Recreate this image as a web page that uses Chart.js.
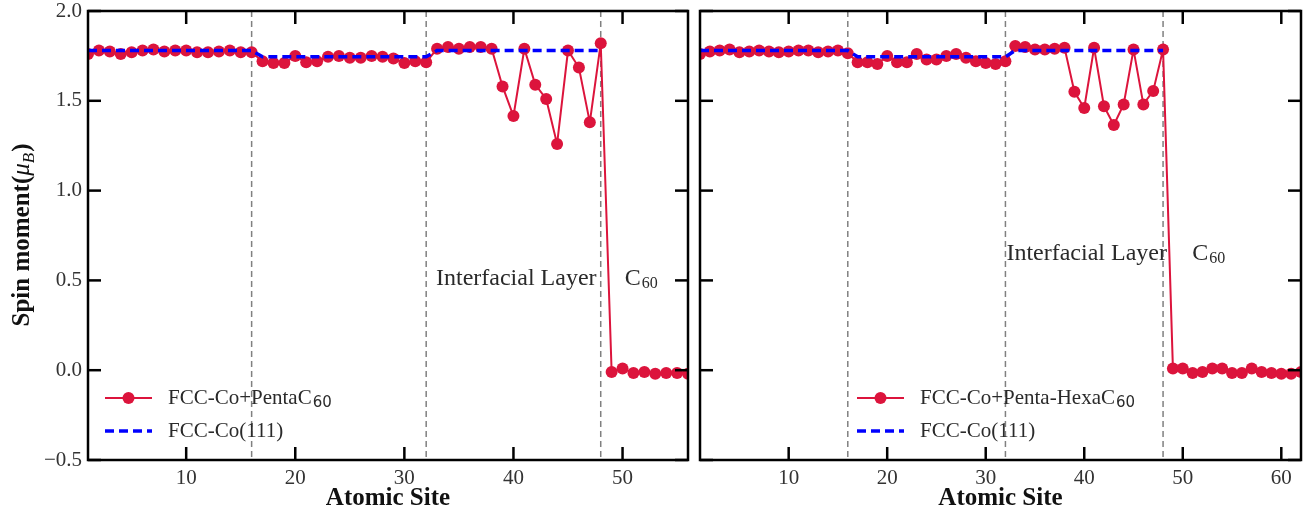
<!DOCTYPE html>
<html>
<head>
<meta charset="utf-8">
<script src="https://cdn.jsdelivr.net/npm/chart.js@4.4.1/dist/chart.umd.min.js"></script>
<style>
  html, body { margin: 0; padding: 0; background: #fff; }
  #wrap { position: relative; width: 1313px; height: 520px; }
  #c1 { position: absolute; left: 0; top: 0; }
  #c2 { position: absolute; left: 694px; top: 0; }
</style>
</head>
<body>
<div id="wrap">
  <canvas id="c1" width="694" height="520"></canvas>
  <canvas id="c2" width="619" height="520"></canvas>
</div>
<script>
/* ---- data ---- */
const sitesPenta = [1, 2, 3, 4, 5, 6, 7, 8, 9, 10, 11, 12, 13, 14, 15, 16,
  17, 18, 19, 20, 21, 22, 23, 24, 25, 26, 27, 28, 29, 30, 31, 32,
  33, 34, 35, 36, 37, 38, 39, 40, 41, 42, 43, 44, 45, 46, 47, 48,
  49, 50, 51, 52, 53, 54, 55, 56];
const momentPenta = [1.76, 1.78, 1.775, 1.76, 1.77, 1.78, 1.785, 1.775, 1.78, 1.78, 1.77, 1.77, 1.775, 1.78, 1.77, 1.77,
  1.72, 1.71, 1.71, 1.75, 1.715, 1.72, 1.745, 1.75, 1.74, 1.74, 1.75, 1.745, 1.735, 1.71, 1.72, 1.715,
  1.79, 1.80, 1.79, 1.80, 1.80, 1.79, 1.58, 1.415, 1.79, 1.59, 1.51, 1.26, 1.78, 1.685, 1.38, 1.82,
  -0.01, 0.01, -0.015, -0.01, -0.02, -0.015, -0.015, -0.02];

const sitesHexa = [1, 2, 3, 4, 5, 6, 7, 8, 9, 10, 11, 12, 13, 14, 15, 16,
  17, 18, 19, 20, 21, 22, 23, 24, 25, 26, 27, 28, 29, 30, 31, 32,
  33, 34, 35, 36, 37, 38, 39, 40, 41, 42, 43, 44, 45, 46, 47, 48,
  49, 50, 51, 52, 53, 54, 55, 56, 57, 58, 59, 60, 61, 62];
const momentHexa = [1.76, 1.775, 1.78, 1.785, 1.77, 1.775, 1.78, 1.775, 1.77, 1.775, 1.78, 1.78, 1.77, 1.775, 1.78, 1.765,
  1.715, 1.715, 1.705, 1.75, 1.715, 1.715, 1.76, 1.73, 1.73, 1.75, 1.76, 1.74, 1.72, 1.71, 1.705, 1.72,
  1.805, 1.80, 1.785, 1.785, 1.79, 1.795, 1.55, 1.46, 1.795, 1.47, 1.365, 1.48, 1.785, 1.48, 1.555, 1.785,
  0.01, 0.01, -0.015, -0.01, 0.01, 0.01, -0.015, -0.015, 0.01, -0.01, -0.015, -0.02, -0.02, -0.01];

// bare FCC-Co(111) reference, sites 1-48
const sitesRef = [1, 2, 3, 4, 5, 6, 7, 8, 9, 10, 11, 12, 13, 14, 15, 16,
  17, 18, 19, 20, 21, 22, 23, 24, 25, 26, 27, 28, 29, 30, 31, 32,
  33, 34, 35, 36, 37, 38, 39, 40, 41, 42, 43, 44, 45, 46, 47, 48];
const momentRef = [1.78, 1.78, 1.78, 1.78, 1.78, 1.78, 1.78, 1.78, 1.78, 1.78, 1.78, 1.78, 1.78, 1.78, 1.78, 1.78,
  1.745, 1.745, 1.745, 1.745, 1.745, 1.745, 1.745, 1.745, 1.745, 1.745, 1.745, 1.745, 1.745, 1.745, 1.745, 1.745,
  1.78, 1.78, 1.78, 1.78, 1.78, 1.78, 1.78, 1.78, 1.78, 1.78, 1.78, 1.78, 1.78, 1.78, 1.78, 1.78];

const boundarySites = [16, 32, 48];
const xTicksPenta = [10, 20, 30, 40, 50];
const xTicksHexa = [10, 20, 30, 40, 50, 60];
const yTicks = [-0.5, 0.0, 0.5, 1.0, 1.5, 2.0];

const RED = '#dc143c';
const BLUE = '#0000ff';
const SERIF = "'Liberation Serif', 'DejaVu Serif', serif";

const toXY = (xs, ys) => xs.map((v, i) => ({ x: v, y: ys[i] }));

// text with a subscript tail, e.g. C + 60
function drawSub(ctx, x, y, main, sub, size, subFont) {
  ctx.font = `${size}px ${SERIF}`;
  ctx.fillText(main, x, y);
  if (!sub) return;
  const w = ctx.measureText(main).width;
  ctx.font = subFont;
  ctx.fillText(sub, x + w + 1, y + Math.round(size * 0.22));
}

const panelDecor = {
  id: 'panelDecor',
  beforeDatasetsDraw(chart) {
    const { ctx, chartArea: a, scales: { x } } = chart;
    ctx.save();
    ctx.strokeStyle = '#808080';
    ctx.lineWidth = 1.5;
    ctx.setLineDash([6, 4]);
    boundarySites.forEach((v) => {
      const px = x.getPixelForValue(v);
      ctx.beginPath();
      ctx.moveTo(px, a.top);
      ctx.lineTo(px, a.bottom);
      ctx.stroke();
    });
    ctx.restore();
  },
  afterDraw(chart, args, opts) {
    const { ctx, chartArea: a, scales: { x, y } } = chart;
    ctx.save();

    // inward ticks on all four sides
    ctx.strokeStyle = '#000';
    ctx.lineWidth = 2.5;
    const seg = (x0, y0, x1, y1) => { ctx.beginPath(); ctx.moveTo(x0, y0); ctx.lineTo(x1, y1); ctx.stroke(); };
    x.ticks.forEach((t) => {
      const px = x.getPixelForValue(t.value);
      seg(px, a.bottom, px, a.bottom - 13);
      seg(px, a.top, px, a.top + 13);
    });
    y.ticks.forEach((t) => {
      const py = y.getPixelForValue(t.value);
      seg(a.left, py, a.left + 13, py);
      seg(a.right, py, a.right - 13, py);
    });
    ctx.strokeRect(a.left, a.top, a.right - a.left, a.bottom - a.top);

    // region labels
    ctx.fillStyle = '#2a2a2a';
    ctx.textBaseline = 'middle';
    ctx.textAlign = 'left';
    const ty = y.getPixelForValue(opts.labelY);
    drawSub(ctx, x.getPixelForValue(opts.interX), ty, 'Interfacial Layer', '', 24);
    drawSub(ctx, x.getPixelForValue(opts.c60X), ty, 'C', '60', 24, `16px ${SERIF}`);

    // legend
    const lx = a.left + opts.legendDx;
    const rows = [a.bottom - 62, a.bottom - 29];
    ctx.lineWidth = 2;
    ctx.strokeStyle = RED;
    seg(lx, rows[0], lx + 47, rows[0]);
    ctx.fillStyle = RED;
    ctx.beginPath();
    ctx.arc(lx + 23.5, rows[0], 6, 0, Math.PI * 2);
    ctx.fill();
    ctx.strokeStyle = BLUE;
    ctx.lineWidth = 3.5;
    ctx.setLineDash([9, 5]);
    seg(lx, rows[1], lx + 47, rows[1]);
    ctx.setLineDash([]);
    ctx.fillStyle = '#2a2a2a';
    drawSub(ctx, lx + 63, rows[0], opts.legendMain, '60', 21, "15px 'DejaVu Sans', sans-serif");
    drawSub(ctx, lx + 63, rows[1], 'FCC-Co(111)', '', 21);

    // y-axis title with mu_B
    if (opts.yTitle) {
      ctx.translate(22, (a.top + a.bottom) / 2);
      ctx.rotate(-Math.PI / 2);
      ctx.textBaseline = 'alphabetic';
      ctx.fillStyle = '#111';
      const parts = [
        { t: 'Spin moment(', f: `bold 25px ${SERIF}`, dy: 0 },
        { t: '\u03bc', f: `italic 25px ${SERIF}`, dy: 0 },
        { t: 'B', f: `italic 17px ${SERIF}`, dy: 5 },
        { t: ')', f: `bold 25px ${SERIF}`, dy: 0 },
      ];
      let total = 0;
      parts.forEach((p) => { ctx.font = p.f; p.w = ctx.measureText(p.t).width; total += p.w; });
      let cx = -total / 2;
      parts.forEach((p) => { ctx.font = p.f; ctx.fillText(p.t, cx, 7 + p.dy); cx += p.w + (p.t === 'B' ? 1 : 0); });
    }
    ctx.restore();
  },
};

function makeChart(id, sites, moments, xMax, xTicks, deco, showY) {
  return new Chart(document.getElementById(id), {
    type: 'line',
    data: {
      datasets: [
        {
          label: 'FCC-Co(111)',
          data: toXY(sitesRef, momentRef),
          borderColor: BLUE,
          borderWidth: 3.5,
          borderDash: [9, 5],
          pointRadius: 0,
          clip: 0,
          order: 0,
        },
        {
          label: deco.legendMain + '60',
          data: toXY(sites, moments),
          borderColor: RED,
          backgroundColor: RED,
          borderWidth: 2,
          pointRadius: 6,
          pointBorderWidth: 0,
          pointBackgroundColor: RED,
          clip: 0,
          order: 1,
        },
      ],
    },
    options: {
      responsive: false,
      animation: false,
      events: [],
      layout: { padding: { left: showY ? 0 : 4, right: showY ? 4 : 12, top: 11, bottom: 0 } },
      plugins: {
        legend: { display: false },
        tooltip: { enabled: false },
        panelDecor: deco,
      },
      scales: {
        x: {
          type: 'linear',
          min: 1,
          max: xMax,
          afterBuildTicks: (s) => { s.ticks = xTicks.map((v) => ({ value: v })); },
          afterFit: (s) => { s.height = 60; s.paddingLeft = 0; s.paddingRight = 0; },
          grid: { display: false, tickLength: 0 },
          border: { display: false },
          ticks: { font: { family: SERIF, size: 21 }, color: '#333', padding: 6 },
          title: {
            display: true,
            text: 'Atomic Site',
            font: { family: SERIF, size: 25, weight: 'bold' },
            color: '#111',
            padding: { top: 0, bottom: 6 },
          },
        },
        y: {
          type: 'linear',
          min: -0.5,
          max: 2.0,
          display: showY,
          afterBuildTicks: (s) => { s.ticks = yTicks.map((v) => ({ value: v })); },
          afterFit: (s) => {
            if (showY) s.width = 88;
            s.paddingTop = 0;
            s.paddingBottom = 0;
          },
          grid: { display: false, tickLength: 0 },
          border: { display: false },
          ticks: {
            font: { family: SERIF, size: 21 },
            color: '#333',
            padding: 6,
            callback: (v) => (v < 0 ? '\u2212' : '') + Math.abs(v).toFixed(1),
          },
        },
      },
    },
    plugins: [panelDecor],
  });
}

makeChart('c1', sitesPenta, momentPenta, 56, xTicksPenta,
  { legendMain: 'FCC-Co+PentaC', legendDx: 17, interX: 32.9, c60X: 50.2, labelY: 0.51, yTitle: true }, true);
makeChart('c2', sitesHexa, momentHexa, 62, xTicksHexa,
  { legendMain: 'FCC-Co+Penta-HexaC', legendDx: 157, interX: 32.1, c60X: 50.95, labelY: 0.65, yTitle: false }, false);
</script>
</body>
</html>
